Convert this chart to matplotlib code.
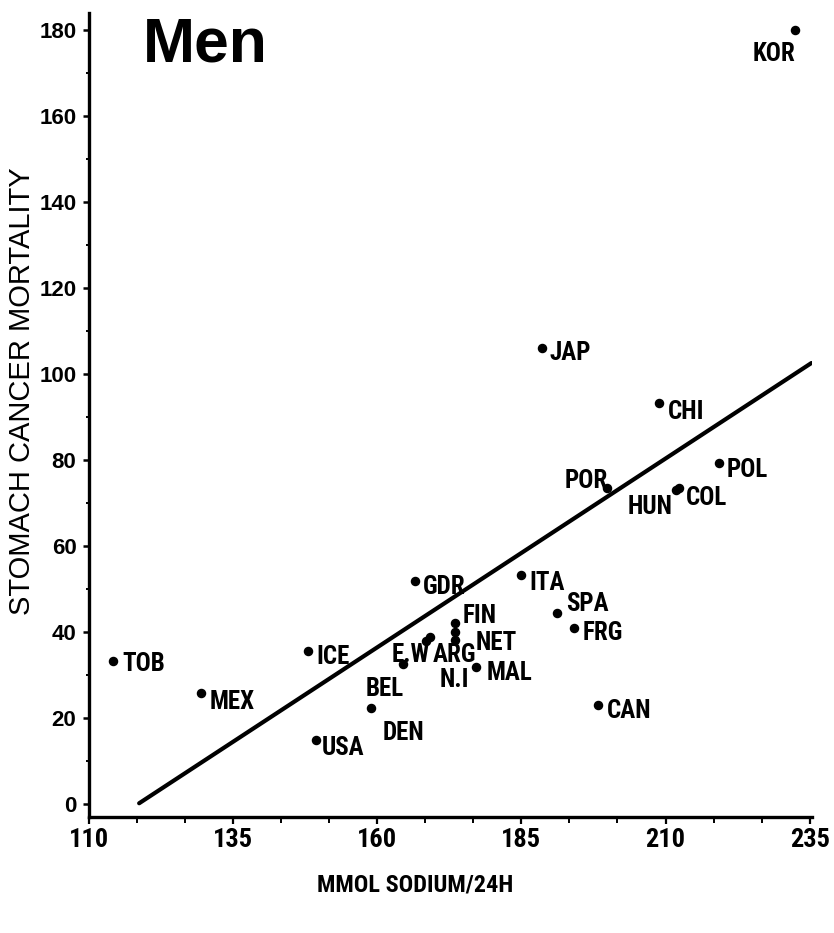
"""
Stomach cancer mortality vs 24h urinary sodium, men
"""

from matplotlib import pyplot as plt
import numpy as np

# country codes, mean sodium excretion (mmol/24h), stomach cancer mortality
countries = ["TOB", "MEX", "ICE", "USA", "DEN", "BEL", "E.W", "ARG", "N.I",
             "NET", "FIN", "MAL", "GDR", "ITA", "SPA", "FRG", "CAN", "JAP",
             "CHI", "POL", "COL", "HUN", "POR", "KOR"]
sodium = np.array([114.2, 129.5, 148.0, 149.4, 159.0, 164.4, 168.5, 169.2, 173.4,
                   173.4, 173.4, 177.2, 166.6, 185.0, 191.2, 194.2, 198.2, 188.5,
                   208.8, 219.3, 212.4, 211.9, 199.8, 232.5])
mortality = np.array([33.3, 25.8, 35.6, 14.9, 22.3, 32.6, 37.9, 38.8, 38.1,
                      40.0, 42.1, 31.9, 51.9, 53.3, 44.4, 40.9, 23.0, 106.0,
                      93.3, 79.3, 73.5, 73.0, 73.5, 180.0])

# fitted regression line end points
fit_sodium = np.array([118.7, 235.3])
fit_mortality = np.array([0.2, 102.6])

x_ticks = [110, 135, 160, 185, 210, 235]
y_ticks = [0, 20, 40, 60, 80, 100, 120, 140, 160, 180]

# where each code sits relative to its dot (pixels, alignment)
label_place = {
    "TOB": (9, -3, "left"), "MEX": (8, -9, "left"), "ICE": (8, -6, "left"),
    "USA": (6, -8, "left"), "DEN": (11, -25, "left"), "BEL": (1, -25, "right"),
    "E.W": (-35, -14, "left"), "ARG": (2, -18, "left"), "N.I": (-15, -40, "left"),
    "NET": (21, -11, "left"), "FIN": (8, 7, "left"), "MAL": (10, -6, "left"),
    "GDR": (8, -6, "left"), "ITA": (8, -8, "left"), "SPA": (9, 9, "left"),
    "FRG": (8, -5, "left"), "CAN": (9, -6, "left"), "JAP": (8, -5, "left"),
    "CHI": (9, -9, "left"), "POL": (7, -7, "left"), "COL": (6, -10, "left"),
    "HUN": (-4, -17, "right"), "POR": (1, 7, "right"), "KOR": (0, -24, "right"),
}

narrow = dict(family=["Roboto Condensed", "DejaVu Sans"], fontstretch="condensed",
              fontweight="bold")
wide = ["Liberation Sans", "DejaVu Sans"]

fig = plt.figure(figsize=(8.34, 9.33), dpi=100)
ax = fig.add_axes([0.1067, 0.1243, 0.8669, 0.8617])

ax.plot(fit_sodium, fit_mortality, color="black", lw=3, solid_capstyle="round")
ax.scatter(sodium, mortality, s=34, color="black", zorder=3)

for name, x, y in zip(countries, sodium, mortality):
    dx, dy, ha = label_place[name]
    ax.annotate(name, (x, y), xytext=(dx, dy), textcoords="offset pixels",
                ha=ha, va="center", fontsize=18, **narrow)

ax.set_xlim(110, 235.4)
ax.set_ylim(-3, 184)
ax.set_xticks(x_ticks)
ax.set_xticks(np.arange(110, 236, 25 / 3), minor=True)
ax.set_yticks(y_ticks)
ax.set_yticks(np.arange(0, 181, 10), minor=True)

for side in ["top", "right"]:
    ax.spines[side].set_visible(False)
for side in ["left", "bottom"]:
    ax.spines[side].set_linewidth(2.4)

ax.tick_params(axis="x", which="major", direction="out", length=5, width=1.6, pad=3)
ax.tick_params(axis="x", which="minor", direction="out", length=4, width=1.4)
ax.tick_params(axis="y", which="major", direction="out", length=4, width=1.8, pad=5)
ax.tick_params(axis="y", which="minor", direction="out", length=2, width=1.4)

ax.set_xticklabels([str(t) for t in x_ticks], fontsize=19, **narrow)
ax.set_yticklabels([str(t) for t in y_ticks], fontsize=16, fontweight="bold",
                   family=wide)

fig.text(143 / 834, 1 - 62 / 933, "Men", fontsize=45, fontweight="bold",
         family=wide, ha="left", va="baseline")
fig.text(22 / 834, 1 - 391 / 933, "STOMACH CANCER MORTALITY", rotation=90,
         fontsize=21, family=wide, ha="center", va="center")
fig.text(415 / 834, 1 - 885 / 933, "MMOL SODIUM/24H", fontsize=17.5,
         ha="center", va="center", **narrow)

fig.savefig("out.png", dpi=100)
